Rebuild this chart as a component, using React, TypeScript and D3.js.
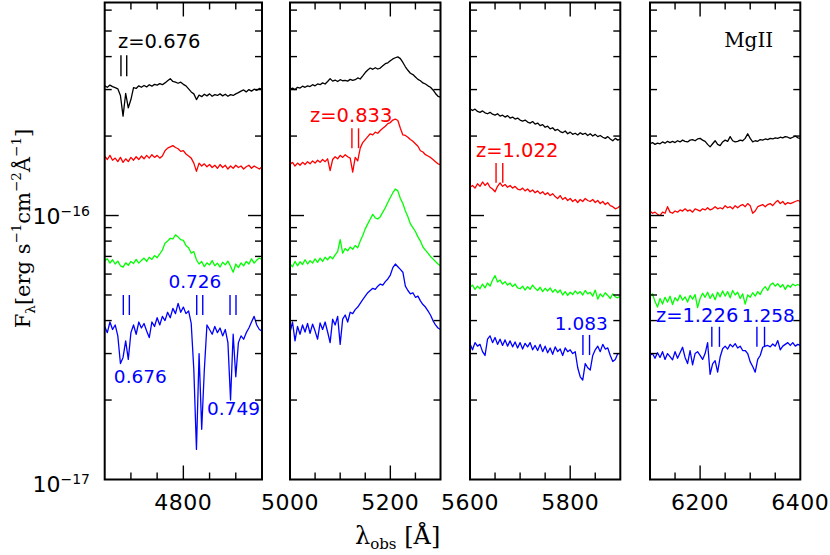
import React from 'react';
import * as d3 from 'd3';

// ---------- data ----------
const FLUX_UNIT = 1e-17; // erg s^-1 cm^-2 Å^-1
const WAVE_STEP = 5;
const PANEL_WAVE: [number, number][] = [[4650, 4950], [5000, 5300], [5600, 5900], [6100, 6400]];

const P1_BLACK = [
  31.0, 30.6, 31.2, 30.8, 30.5, 30.2, 28.5, 23.8, 29.0, 25.6,
  27.5, 30.5, 30.3, 31.0, 30.6, 31.1, 30.7, 31.3, 30.9, 31.4,
  31.2, 31.6, 31.3, 31.8, 32.4, 33.0, 32.2, 32.0, 31.7, 32.0,
  31.4, 31.0, 30.2, 29.4, 28.9, 27.5, 28.6, 28.2, 28.8, 28.4,
  28.9, 28.3, 28.7, 28.5, 28.9, 28.4, 28.8, 28.3, 28.7, 28.5,
  28.9, 29.2, 29.6, 29.9, 29.4, 30.0, 29.6, 30.1, 29.8, 30.3,
  30.1];
const P1_RED = [
  16.8, 16.3, 16.9, 16.2, 16.5, 16.0, 16.6, 15.9, 16.4, 16.0,
  16.6, 16.2, 16.7, 16.3, 16.8, 16.4, 16.9, 16.5, 17.0, 16.6,
  16.9, 16.5, 16.8, 17.6, 18.0, 18.2, 18.4, 18.1, 17.9, 17.5,
  17.6, 17.1, 16.8, 16.5, 15.8, 14.7, 15.8, 15.4, 15.7, 15.3,
  15.6, 15.2, 15.5, 15.1, 15.6, 15.2, 15.5, 15.0, 15.4, 15.1,
  15.5, 15.2, 15.4, 15.0, 15.3, 15.5, 15.1, 15.4, 15.2, 15.0,
  15.3];
const P1_GREEN = [
  6.75, 6.85, 6.60, 6.80, 6.55, 6.72, 6.45, 6.38, 6.62, 6.48,
  6.70, 6.58, 6.82, 6.60, 6.76, 6.90, 6.70, 6.95, 6.82, 7.05,
  6.92, 7.15, 7.40, 7.85, 8.00, 8.20, 8.15, 8.45, 8.30, 8.10,
  8.05, 7.70, 7.55, 7.20, 7.30, 6.80, 6.55, 6.70, 6.40, 6.62,
  6.50, 6.75, 6.45, 6.60, 6.38, 6.65, 6.50, 6.72, 6.42, 6.10,
  6.55, 6.35, 6.62, 6.45, 6.70, 6.55, 6.85, 6.60, 6.78, 6.90,
  6.80];
const P1_BLUE = [
  3.80, 3.60, 3.95, 3.70, 3.85, 3.50, 2.75, 2.90, 3.35, 2.85,
  3.60, 3.85, 3.55, 3.95, 3.75, 3.90, 3.65, 3.45, 3.95, 3.80,
  4.10, 3.85, 4.15, 4.00, 4.30, 4.10, 4.45, 4.25, 4.65, 4.30,
  4.50, 4.25, 4.35, 3.90, 2.60, 1.30, 3.00, 1.55, 2.60, 3.85,
  3.70, 3.55, 3.80, 3.60, 3.75, 3.50, 3.70, 3.30, 2.00, 3.55,
  2.45, 3.30, 3.50, 3.40, 3.60, 3.75, 3.95, 4.15, 3.85, 3.70,
  3.65];

const P2_BLACK = [
  30.1, 30.4, 30.0, 30.6, 30.4, 30.9, 30.6, 31.0, 30.8, 31.3,
  31.0, 31.5, 31.3, 31.8, 31.5, 32.2, 33.0, 32.3, 32.6, 32.2,
  32.7, 32.4, 32.5, 32.3, 32.8, 32.5, 32.7, 33.2, 32.9, 33.8,
  34.8, 35.6, 36.2, 35.8, 36.3, 35.9, 36.2, 36.9, 37.6, 37.9,
  38.6, 39.2, 39.6, 39.9, 39.3, 38.0, 36.6, 35.5, 34.6, 34.2,
  33.5, 32.8, 32.4, 31.8, 31.5, 31.0, 30.6, 29.9, 29.0, 28.3,
  28.1];
const P2_RED = [
  15.6, 15.9, 15.4, 15.8, 15.5, 15.9, 15.6, 16.0, 15.7, 16.1,
  15.8, 16.2, 15.9, 16.3, 16.0, 16.4, 14.8, 16.3, 16.7, 16.4,
  16.9, 16.6, 17.0, 16.7, 16.5, 14.6, 16.6, 16.1, 18.0, 18.9,
  19.4, 19.9, 20.4, 20.2, 20.7, 20.5, 21.0, 21.4, 21.8, 22.3,
  22.5, 23.0, 23.2, 22.9, 21.4, 20.2, 20.1, 19.8, 19.4, 19.1,
  18.7, 18.3, 17.6, 17.4, 17.0, 16.8, 16.6, 16.3, 16.0, 15.7,
  15.6];
const P2_GREEN = [
  6.55, 6.40, 6.70, 6.45, 6.68, 6.52, 6.80, 6.55, 6.75, 6.60,
  6.85, 6.65, 6.90, 6.70, 6.95, 6.80, 7.00, 6.85, 7.10, 7.30,
  8.10, 7.20, 7.50, 7.35, 7.60, 7.45, 7.70, 7.55, 8.00, 8.40,
  8.90, 9.30, 9.70, 10.10, 9.80, 9.70, 9.90, 10.30, 10.70, 11.20,
  11.70, 12.20, 12.60, 12.40, 11.60, 11.10, 10.40, 9.90, 9.30, 9.00,
  8.70, 8.30, 8.00, 7.60, 7.40, 7.20, 7.00, 6.85, 6.70, 6.55,
  6.45];
const P2_BLUE = [
  3.60, 3.95, 3.35, 3.80, 3.55, 3.85, 3.62, 3.90, 3.58, 3.88,
  3.65, 3.40, 3.92, 3.70, 3.95, 3.62, 3.30, 4.05, 3.85, 4.15,
  3.25, 4.05, 4.20, 3.95, 4.30, 4.25, 4.40, 4.50, 4.65, 4.80,
  4.95, 5.10, 5.20, 5.30, 5.25, 5.40, 5.50, 5.45, 5.62, 5.75,
  5.95, 6.35, 6.55, 6.40, 6.25, 6.10, 5.40, 5.20, 5.05, 5.10,
  4.90, 4.95, 4.75, 4.60, 4.50, 4.35, 4.20, 4.00, 3.85, 3.75,
  3.70];

const P3_BLACK = [
  25.4, 25.0, 25.3, 24.8, 24.6, 24.9, 24.5, 24.3, 24.6, 24.2,
  24.0, 24.3, 23.8, 24.0, 23.6, 23.9, 23.4, 23.6, 23.2, 23.4,
  23.0, 22.8, 23.0, 22.6, 22.4, 22.7, 22.2, 22.4, 21.9, 22.1,
  21.6, 21.8, 21.3, 21.5, 21.0, 21.2, 20.8, 20.6, 20.9, 20.4,
  20.7, 20.3, 20.5, 20.2, 20.6, 20.3, 20.5, 20.1, 20.4, 20.0,
  20.3, 19.9, 20.1, 19.8, 19.6, 19.9, 19.5, 19.2, 19.6, 19.3,
  19.5];
const P3_RED = [
  12.8, 13.0, 12.7, 13.2, 12.9, 13.4, 13.0, 13.3, 12.8, 12.6,
  12.3, 12.9, 13.3, 12.9, 13.1, 12.8, 13.0, 12.7, 12.9, 12.6,
  12.5, 12.7, 12.4, 12.6, 12.3, 12.5, 12.2, 12.4, 12.1, 12.3,
  12.0, 12.2, 11.9, 12.1, 11.8, 11.6, 11.9, 11.5, 11.7, 11.4,
  11.6, 11.3, 11.5, 11.2, 11.5, 11.3, 11.6, 11.4, 11.3, 11.5,
  11.2, 11.4, 11.1, 11.3, 11.0, 11.2, 10.9, 10.8, 10.6, 10.7,
  10.9];
const P3_GREEN = [
  5.35, 5.45, 5.25, 5.40, 5.28, 5.50, 5.32, 5.55, 5.40, 5.70,
  5.92, 5.60, 5.70, 5.50, 5.62, 5.45, 5.55, 5.38, 5.50, 5.32,
  5.28, 5.40, 5.22, 5.38, 5.25, 5.45, 5.30, 5.20, 5.35, 5.15,
  5.30, 5.18, 5.32, 5.12, 5.25, 5.10, 5.22, 5.00, 5.15, 4.98,
  5.12, 5.02, 5.18, 5.05, 5.15, 5.00, 5.20, 5.05, 5.12, 4.95,
  5.22, 4.82, 5.05, 4.92, 5.10, 4.98, 4.85, 5.05, 4.92, 4.88,
  4.95];
const P3_BLUE = [
  3.27, 3.10, 3.30, 3.20, 3.25, 3.05, 2.95, 3.40, 3.50, 3.30,
  3.45, 3.25, 3.40, 3.22, 3.38, 3.20, 3.35, 3.18, 3.32, 3.15,
  3.30, 3.12, 3.28, 3.18, 3.30, 3.10, 3.22, 3.08, 3.25, 3.05,
  3.20, 3.02, 3.15, 2.98, 3.18, 3.05, 3.12, 2.95, 3.15, 3.05,
  3.10, 3.00, 3.05, 2.65, 2.45, 2.38, 2.75, 2.65, 2.60, 2.95,
  3.10, 3.20, 3.05, 3.25, 3.12, 3.15, 2.95, 2.80, 2.85, 3.00,
  3.00];

const P4_BLACK = [
  18.7, 18.9, 18.6, 18.8, 18.7, 19.0, 18.8, 19.1, 18.9, 19.1,
  18.9, 19.2, 19.0, 19.3, 19.1, 19.0, 19.3, 19.4, 19.2, 19.5,
  19.6, 19.3, 19.1, 18.6, 18.2, 18.7, 19.2, 18.6, 18.4, 19.0,
  19.3, 19.1, 19.9, 19.2, 19.0, 19.1, 19.3, 19.2, 19.6, 20.4,
  19.6, 19.0, 19.2, 19.1, 19.4, 19.3, 19.5, 19.4, 19.6, 19.5,
  19.7, 19.6, 19.8, 19.7, 19.9, 19.8, 19.6, 19.8, 20.0, 19.7,
  19.6];
const P4_RED = [
  10.4, 10.2, 10.3, 10.1, 10.0, 10.3, 10.2, 10.8, 10.3, 10.2,
  10.4, 10.3, 10.5, 10.4, 10.6, 10.4, 10.5, 10.3, 10.6, 10.5,
  10.4, 10.6, 10.5, 10.7, 10.5, 10.6, 10.8, 10.6, 10.7, 10.6,
  10.9, 10.7, 10.8, 10.6, 10.9, 10.7, 10.9, 11.0, 10.8, 11.1,
  10.9, 10.2, 10.4, 10.8, 10.9, 11.0, 10.8, 11.0, 11.1, 10.9,
  11.2, 11.4, 11.1, 11.3, 11.0, 11.2, 11.1, 11.2, 11.3, 11.4,
  11.3];
const P4_GREEN = [
  4.97, 5.05, 4.72, 4.50, 4.85, 4.62, 4.90, 4.70, 4.95, 4.60,
  4.88, 4.75, 5.00, 4.78, 4.92, 4.70, 4.98, 4.82, 5.02, 4.48,
  4.85, 5.08, 4.90, 5.12, 4.85, 5.05, 4.80, 5.12, 4.92, 5.18,
  4.95, 5.15, 4.88, 5.20, 5.00, 5.12, 4.85, 5.05, 4.62, 5.00,
  4.90, 5.10, 4.95, 5.15, 5.02, 5.25, 5.38, 5.20, 5.45, 5.55,
  5.40, 5.52, 5.35, 5.48, 5.25, 5.45, 5.35, 5.50, 5.42, 5.48,
  5.42];
const P4_BLUE = [
  2.95, 3.00, 2.88, 3.02, 2.90, 3.05, 2.85, 3.00, 2.92, 2.84,
  3.05, 2.88, 3.02, 3.17, 2.90, 2.75, 3.08, 2.72, 3.00, 3.05,
  2.95, 2.85, 3.00, 3.30, 2.50, 2.74, 2.82, 2.55, 2.91, 3.13,
  3.20, 3.12, 3.25, 3.18, 3.27, 3.15, 3.20, 3.08, 3.08, 3.00,
  2.79, 2.68, 2.55, 2.85, 2.95, 3.17, 3.20, 3.22, 3.18, 3.26,
  3.20, 3.36, 3.10, 3.20, 3.25, 3.30, 3.22, 3.30, 3.20, 3.25,
  3.22];

const PANEL_SPECTRA = [
  [P1_BLACK, P1_RED, P1_GREEN, P1_BLUE],
  [P2_BLACK, P2_RED, P2_GREEN, P2_BLUE],
  [P3_BLACK, P3_RED, P3_GREEN, P3_BLUE],
  [P4_BLACK, P4_RED, P4_GREEN, P4_BLUE],
];
const SERIES_COLORS = ['#000000', '#ff0000', '#00ff00', '#0000ff'];

// absorber marks: panel, series colour index, wavelengths, flux span (1e-17)
const MARKS = [
  { panel: 0, c: 0, waves: [4681, 4692], f: [40.5, 33.7] },
  { panel: 0, c: 3, waves: [4685.5, 4697], f: [5.0, 4.2] },
  { panel: 0, c: 3, waves: [4825.5, 4837], f: [5.0, 4.2] },
  { panel: 0, c: 3, waves: [4889, 4900.4], f: [5.0, 4.2] },
  { panel: 1, c: 1, waves: [5123.4, 5136.6], f: [21.4, 18.0] },
  { panel: 2, c: 1, waves: [5652, 5665.4], f: [15.8, 13.3] },
  { panel: 2, c: 3, waves: [5825.4, 5838.6], f: [3.53, 2.96] },
  { panel: 3, c: 3, waves: [6223.4, 6238.6], f: [3.79, 3.18] },
  { panel: 3, c: 3, waves: [6313.4, 6328.6], f: [3.79, 3.18] },
];
// labels: panel, colour, text, wavelength (anchor), flux at baseline
const LABELS = [
  { panel: 0, c: 0, text: 'z=0.676', wave: 4675.4, f: 43.1, anchor: 'start', size: 19.5 },
  { panel: 0, c: 3, text: '0.726', wave: 4822, f: 5.31, anchor: 'middle', size: 18.5 },
  { panel: 0, c: 3, text: '0.676', wave: 4718, f: 2.32, anchor: 'middle', size: 18.5 },
  { panel: 0, c: 3, text: '0.749', wave: 4895.7, f: 1.755, anchor: 'middle', size: 18.5 },
  { panel: 1, c: 1, text: 'z=0.833', wave: 5122, f: 22.7, anchor: 'middle', size: 19.5 },
  { panel: 2, c: 1, text: 'z=1.022', wave: 5694, f: 16.7, anchor: 'middle', size: 19.5 },
  { panel: 2, c: 3, text: '1.083', wave: 5822, f: 3.68, anchor: 'middle', size: 18.5 },
  { panel: 3, c: 3, text: 'z=1.226', wave: 6194, f: 3.96, anchor: 'middle', size: 19.5 },
  { panel: 3, c: 3, text: '1.258', wave: 6336, f: 3.96, anchor: 'middle', size: 18.5 },
];
const LINE_ID = { panel: 3, text: 'MgII', wave: 6297, f: 43.6 };

const Y_MIN = 1e-17;
const Y_MAX = Math.pow(10, -15.193);
const Y_MAJOR = [1e-16];
const Y_MINOR = [2e-17, 3e-17, 4e-17, 5e-17, 6e-17, 7e-17, 8e-17, 9e-17, 2e-16, 3e-16, 4e-16, 5e-16, 6e-16];
const Y_LABELS = [{ v: 1e-17, exp: '\u221217' }, { v: 1e-16, exp: '\u221216' }];

// ---------- layout ----------
const PANEL_PX: [number, number][] = [[104.7, 262], [290, 440.5], [470, 620.3], [650, 800.3]];
const TOP = 2.5;
const BOTTOM = 479.5;

export default function App() {
  const y = d3.scaleLog().domain([Y_MIN, Y_MAX]).range([BOTTOM, TOP]);
  const panels = PANEL_WAVE.map((w, i) => d3.scaleLinear().domain(w).range(PANEL_PX[i]));

  return (
    <svg width={830} height={555} style={{ position: 'absolute', left: 0, top: 0, background: '#fff' }}
      fontFamily="DejaVu Sans">
      {panels.map((x, i) => {
        const [lo, hi] = PANEL_WAVE[i];
        const [x0, x1] = PANEL_PX[i];
        const xt = d3.range(lo, hi + 1, 50).filter(v => v > lo && v < hi);
        const xl = d3.range(lo, hi + 1, 50).filter(v => v % 200 === 0);
        const line = d3.line<number>().x((_, j) => x(lo + j * WAVE_STEP)).y(d => y(d * FLUX_UNIT));
        return (
          <g key={i}>
            <defs>
              <clipPath id={'clip' + i}><rect x={x0} y={TOP} width={x1 - x0} height={BOTTOM - TOP} /></clipPath>
            </defs>
            <g clipPath={`url(#clip${i})`}>
              {PANEL_SPECTRA[i].map((s, k) => (
                <path key={k} d={line(s) || ''} fill="none" stroke={SERIES_COLORS[k]} strokeWidth={1.3} strokeLinejoin="round" />
              ))}
            </g>
            {/* ticks */}
            <g stroke="#000" strokeWidth={1.4}>
              {xt.map(v => {
                const L = v % 200 === 0 ? 14 : 7;
                return (
                  <g key={v}>
                    <line x1={x(v)} x2={x(v)} y1={BOTTOM} y2={BOTTOM - L} />
                    <line x1={x(v)} x2={x(v)} y1={TOP} y2={TOP + L} />
                  </g>
                );
              })}
              {[...Y_MAJOR, ...Y_MINOR].map(v => {
                const L = Y_MAJOR.includes(v) ? 14 : 7;
                return (
                  <g key={v}>
                    <line x1={x0} x2={x0 + L} y1={y(v)} y2={y(v)} />
                    <line x1={x1} x2={x1 - L} y1={y(v)} y2={y(v)} />
                  </g>
                );
              })}
            </g>
            <rect x={x0} y={TOP} width={x1 - x0} height={BOTTOM - TOP} fill="none" stroke="#000" strokeWidth={2} />
            {xl.map(v => (
              <text key={v} x={x(v)} y={510} textAnchor="middle" fontSize={22} letterSpacing={0.5}>{v}</text>
            ))}
            {MARKS.filter(m => m.panel === i).map((m, k) => (
              <g key={k} stroke={SERIES_COLORS[m.c]} strokeWidth={1.4}>
                {m.waves.map(w => (
                  <line key={w} x1={x(w)} x2={x(w)} y1={y(m.f[0] * FLUX_UNIT)} y2={y(m.f[1] * FLUX_UNIT)} />
                ))}
              </g>
            ))}
            {LABELS.filter(l => l.panel === i).map((l, k) => (
              <text key={k} x={x(l.wave)} y={y(l.f * FLUX_UNIT)} fill={SERIES_COLORS[l.c]} fontSize={l.size}
                textAnchor={l.anchor as any}>{l.text}</text>
            ))}
            {LINE_ID.panel === i && (
              <text x={x(LINE_ID.wave)} y={y(LINE_ID.f * FLUX_UNIT)} textAnchor="middle" fontFamily="DejaVu Serif" fontSize={20}>{LINE_ID.text}</text>
            )}
          </g>
        );
      })}
      {/* y tick labels */}
      {Y_LABELS.map((t, i) => (
        <text key={i} x={90} y={y(t.v) + (i === 0 ? 12 : 8)} textAnchor="end" fontSize={22}>
          10<tspan fontSize={14} dy={-8}>{t.exp}</tspan>
        </text>
      ))}
      {/* axis titles */}
      <text transform="translate(30,228.5) rotate(-90)" textAnchor="middle" fontFamily="DejaVu Serif" fontSize={21}>
        F<tspan fontSize={13.5} dy={5}>λ</tspan><tspan dy={-5}>[erg s</tspan><tspan fontSize={13.5} dy={-9}>−1</tspan>
        <tspan dy={9}>cm</tspan><tspan fontSize={13.5} dy={-9}>−2</tspan><tspan dy={9}>Å</tspan>
        <tspan fontSize={13.5} dy={-9}>−1</tspan><tspan dy={9}>]</tspan>
      </text>
      <text x={355} y={544} fontFamily="DejaVu Serif" fontSize={24}>
        λ<tspan fontSize={15} dy={5}>obs</tspan><tspan dy={-5}> [Å]</tspan>
      </text>
    </svg>
  );
}
